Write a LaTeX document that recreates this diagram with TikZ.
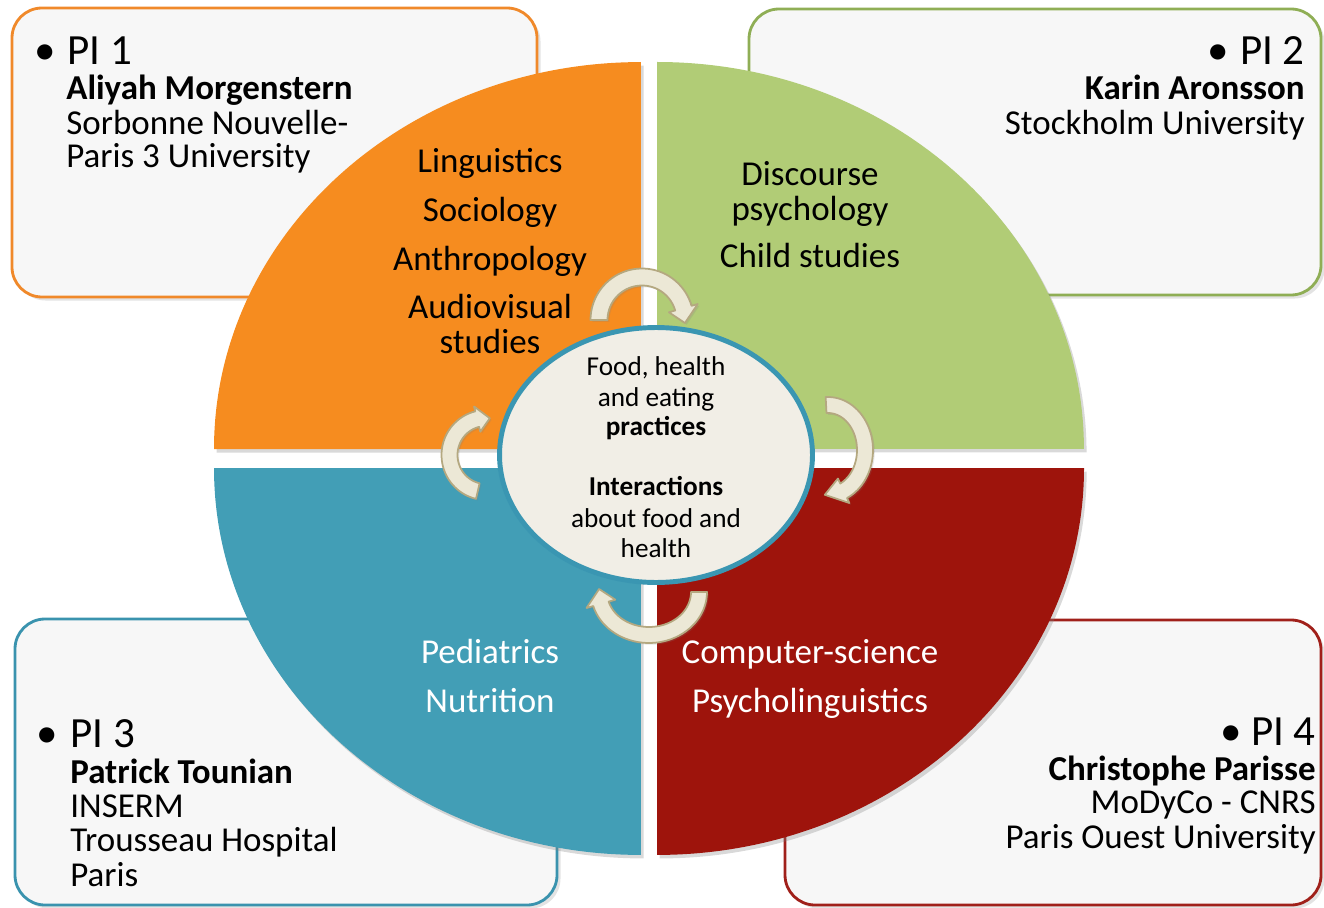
\documentclass[tikz,border=0pt]{standalone}
\usepackage{fontspec}
\setmainfont{Carlito}
\usetikzlibrary{shadows}

\definecolor{qorange}{RGB}{246,140,31}
\definecolor{qgreen}{RGB}{177,204,118}
\definecolor{qblue}{RGB}{66,158,182}
\definecolor{qred}{RGB}{158,20,12}
\definecolor{bxorange}{RGB}{240,137,42}
\definecolor{bxgreen}{RGB}{143,174,85}
\definecolor{bxblue}{RGB}{58,147,174}
\definecolor{bxred}{RGB}{160,32,26}
\definecolor{boxfill}{RGB}{247,247,247}
\definecolor{ellfill}{RGB}{241,238,230}
\definecolor{ellline}{RGB}{58,150,178}
\definecolor{arrfill}{RGB}{236,232,214}
\definecolor{arrline}{RGB}{180,168,128}

% curved arrow: cx cy rx ry halfwidth headhalfwidth startangle headangle tipangle
\newcommand\myCurvArrow[9]{%
  \filldraw[carr] plot[domain=#7:#8, samples=40] ({#1+(#3+#5)*cos(\x)}, {#2+(#4+#5)*sin(\x)})
    -- ({#1+(#3+#6)*cos(#8)}, {#2+(#4+#6)*sin(#8)})
    -- ({#1+#3*cos(#9)}, {#2+#4*sin(#9)})
    -- ({#1+(#3-#6)*cos(#8)}, {#2+(#4-#6)*sin(#8)})
    -- plot[domain=#8:#7, samples=40] ({#1+(#3-#5)*cos(\x)}, {#2+(#4-#5)*sin(\x)})
    -- cycle;}

\begin{document}
\begin{tikzpicture}[x=0.02cm,y=0.02cm,
  pibox/.style={line width=1.6pt, fill=boxfill, rounded corners=0.6cm,
    drop shadow={shadow xshift=2pt,shadow yshift=-2pt,opacity=0.22}},
  quad/.style={drop shadow={shadow xshift=1.5pt,shadow yshift=-2pt,opacity=0.3}},
  hd/.style={font=\fontsize{24.5}{28}\selectfont, inner sep=0pt},
  bd/.style={font=\fontsize{19.9}{23}\selectfont, inner sep=0pt},
  bdb/.style={font=\fontsize{19.9}{23}\selectfont\bfseries, inner sep=0pt},
  qt/.style={font=\fontsize{19.9}{23}\selectfont, inner sep=0pt, anchor=base},
  et/.style={font=\fontsize{15.5}{18}\selectfont, inner sep=0pt, anchor=base},
  etb/.style={font=\fontsize{15.5}{18}\selectfont\bfseries, inner sep=0pt, anchor=base},
  carr/.style={fill=arrfill, draw=arrline, line width=1pt, line join=round,
    drop shadow={shadow xshift=1pt,shadow yshift=-1pt,opacity=0.2}}
]
\useasboundingbox (0,0) rectangle (1324,907);

% PI boxes
\draw[pibox, draw=bxorange] (12,610) rectangle (537,899);
\draw[pibox, draw=bxgreen] (749,612) rectangle (1321,898);
\draw[pibox, draw=bxblue] (15,2) rectangle (557,288);
\draw[pibox, draw=bxred] (785,2) rectangle (1321,287);

% quadrants
\fill[qorange, quad] (641,458) -- (214,458) arc[start angle=180, end angle=90, x radius=8.54cm, y radius=7.74cm] -- cycle;
\fill[qgreen, quad] (657,458) -- (657,845) arc[start angle=90, end angle=0, x radius=8.54cm, y radius=7.74cm] -- cycle;
\fill[qblue, quad] (641,439) -- (214,439) arc[start angle=180, end angle=270, x radius=8.54cm, y radius=7.74cm] -- cycle;
\fill[qred, quad] (657,439) -- (1084,439) arc[start angle=0, end angle=-90, x radius=8.54cm, y radius=7.74cm] -- cycle;

% central ellipse
\draw[ellline, fill=ellfill, line width=2.8pt] (656,452) ellipse [x radius=3.13cm, y radius=2.55cm];

% curved arrows
\myCurvArrow{642}{587}{43}{43}{8.5}{15}{180}{16}{-4}
\myCurvArrow{828}{457}{37}{45}{8}{13.5}{93}{-65}{-95}
\myCurvArrow{649}{315}{50}{43}{8}{15}{0}{-164}{-184}
\myCurvArrow{486}{452}{36.5}{37}{8}{13}{257}{104}{84}

% quadrant texts
\foreach \n/\t/\y in {l1/Linguistics/734, l2/Sociology/685, l3/Anthropology/636, l4/Audiovisual/588, l5/studies/554}
  \node[qt] (\n) at (490,\y) {\t};
\foreach \n/\t/\y in {g1/Discourse/721, g2/psychology/686, g3/Child studies/639}
  \node[qt] (\n) at (810,\y) {\t};
\foreach \n/\t/\y in {b1/Pediatrics/244, b2/Nutrition/195}
  \node[qt, text=white] (\n) at (490,\y) {\t};
\foreach \n/\t/\y in {r1/Computer-science/244, r2/Psycholinguistics/195}
  \node[qt, text=white] (\n) at (810,\y) {\t};

% ellipse texts
\node[et] (e1) at (656,532) {Food, health};
\node[et] (e2) at (656,501) {and eating};
\node[etb] (e3) at (656,472) {practices};
\node[etb] (e4) at (656,412) {Interactions};
\node[et] (e5) at (656,380) {about food and};
\node[et] (e6) at (656,350) {health};

% PI 1
\node[hd, anchor=base] (p1b) at (45,842) {•};
\node[hd, anchor=base west] (p1h) at (67,842) {PI 1};
\node[bdb, anchor=base west] (p1n) at (66,807) {Aliyah Morgenstern};
\node[bd, anchor=base west] (p1a) at (66,772) {Sorbonne Nouvelle-};
\node[bd, anchor=base west] (p1c) at (66,739) {Paris 3 University};

% PI 2
\node[hd, anchor=base] (p2b) at (1218,842) {•};
\node[hd, anchor=base east] (p2h) at (1305,842) {PI 2};
\node[bdb, anchor=base east] (p2n) at (1305,807) {Karin Aronsson};
\node[bd, anchor=base east] (p2a) at (1305,772) {Stockholm University};

% PI 3
\node[hd, anchor=base] (p3b) at (47,160) {•};
\node[hd, anchor=base west] (p3h) at (70,160) {PI 3};
\node[bdb, anchor=base west] (p3n) at (70,124) {Patrick Tounian};
\node[bd, anchor=base west] (p3a) at (70,90) {INSERM};
\node[bd, anchor=base west] (p3c) at (70,56) {Trousseau Hospital};
\node[bd, anchor=base west] (p3d) at (70,21) {Paris};

% PI 4
\node[hd, anchor=base] (p4b) at (1231,162) {•};
\node[hd, anchor=base east] (p4h) at (1316,162) {PI 4};
\node[bdb, anchor=base east] (p4n) at (1316,127) {Christophe Parisse};
\node[bd, anchor=base east] (p4a) at (1316,94) {MoDyCo - CNRS};
\node[bd, anchor=base east] (p4c) at (1316,59) {Paris Ouest University};
\end{tikzpicture}
\end{document}
